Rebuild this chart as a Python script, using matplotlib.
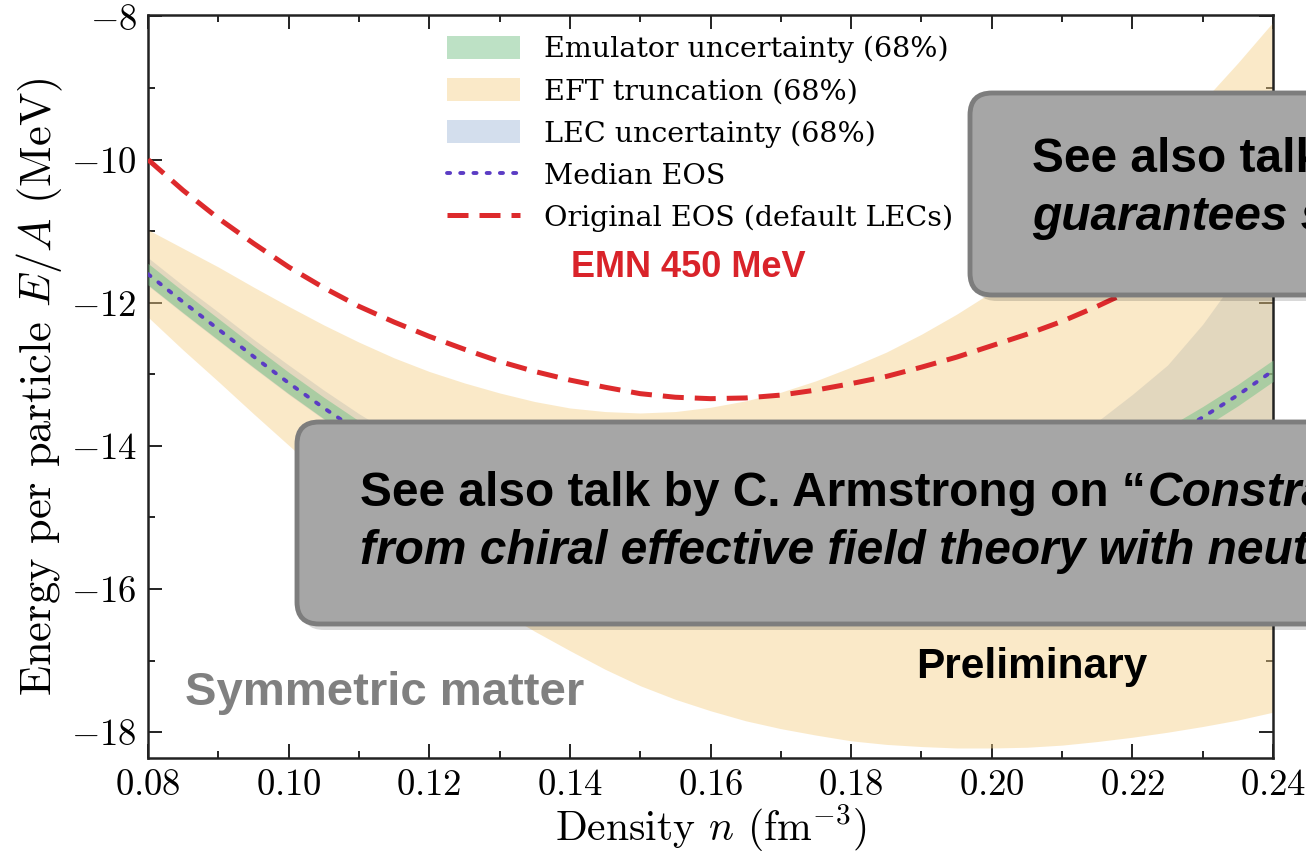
import numpy as np
import matplotlib
matplotlib.use("Agg")
import matplotlib.pyplot as plt
from matplotlib.patches import Patch, FancyBboxPatch
from matplotlib.lines import Line2D
from matplotlib.ticker import MultipleLocator, FuncFormatter
from matplotlib.transforms import IdentityTransform

plt.rcParams["mathtext.fontset"] = "cm"
plt.rcParams["font.family"] = "serif"
plt.rcParams["font.serif"] = ["cmr10", "DejaVu Serif"]

# Density grid (fm^-3)
density = [0.080, 0.085, 0.090, 0.095, 0.100, 0.105, 0.110, 0.115, 0.120, 0.125, 0.130,
           0.135, 0.140, 0.145, 0.150, 0.155, 0.160, 0.165, 0.170, 0.175, 0.180, 0.185,
           0.190, 0.195, 0.200, 0.205, 0.210, 0.215, 0.220, 0.225, 0.230, 0.235, 0.240]

# EFT truncation band (68%)
eft_upper = [-10.98, -11.24, -11.50, -11.78, -12.05, -12.31, -12.55, -12.77, -12.96, -13.12,
             -13.26, -13.38, -13.47, -13.52, -13.54, -13.52, -13.46, -13.37, -13.25, -13.09,
             -12.90, -12.69, -12.44, -12.16, -11.85, -11.49, -11.10, -10.67, -10.20, -9.71,
             -9.19, -8.65, -8.08]
eft_lower = [-12.20, -12.66, -13.10, -13.55, -13.99, -14.43, -14.85, -15.24, -15.60, -15.96,
             -16.30, -16.59, -16.86, -17.12, -17.35, -17.54, -17.70, -17.84, -17.95, -18.04,
             -18.12, -18.17, -18.20, -18.22, -18.22, -18.21, -18.18, -18.13, -18.07, -18.00,
             -17.92, -17.83, -17.72]

# LEC uncertainty band (68%)
lec_upper = [-11.37, -11.76, -12.13, -12.51, -12.87, -13.22, -13.55, -13.85, -14.14, -14.38,
             -14.59, -14.76, -14.89, -14.99, -15.07, -15.13, -15.16, -15.17, -15.16, -15.13,
             -15.08, -15.00, -14.90, -14.75, -14.55, -14.30, -14.00, -13.66, -13.28, -12.87,
             -12.30, -11.62, -10.85]
lec_lower = [-11.76, -12.15, -12.53, -12.91, -13.28, -13.63, -13.97, -14.28, -14.57, -14.83,
             -15.05, -15.24, -15.40, -15.52, -15.62, -15.69, -15.73, -15.74, -15.73, -15.69,
             -15.63, -15.55, -15.45, -15.33, -15.20, -15.06, -14.92, -14.76, -14.60, -14.43,
             -14.25, -14.06, -13.85]

# Emulator uncertainty band (68%)
emu_upper = [-11.45, -11.84, -12.22, -12.60, -12.97, -13.32, -13.65, -13.95, -14.23, -14.48,
             -14.70, -14.88, -15.03, -15.14, -15.23, -15.29, -15.32, -15.32, -15.30, -15.25,
             -15.17, -15.07, -14.95, -14.82, -14.67, -14.52, -14.35, -14.17, -13.98, -13.74,
             -13.45, -13.14, -12.80]
emu_lower = [-11.75, -12.14, -12.52, -12.90, -13.27, -13.62, -13.95, -14.25, -14.53, -14.78,
             -15.00, -15.18, -15.33, -15.44, -15.53, -15.59, -15.62, -15.62, -15.60, -15.55,
             -15.47, -15.37, -15.25, -15.12, -14.97, -14.82, -14.65, -14.47, -14.28, -14.04,
             -13.75, -13.44, -13.10]

median_eos = [-11.60, -11.99, -12.37, -12.75, -13.12, -13.47, -13.80, -14.10, -14.38, -14.63,
              -14.85, -15.03, -15.18, -15.29, -15.38, -15.44, -15.47, -15.47, -15.45, -15.40,
              -15.32, -15.22, -15.10, -14.97, -14.82, -14.67, -14.50, -14.32, -14.13, -13.89,
              -13.60, -13.29, -12.95]
original_eos = [-10.00, -10.43, -10.82, -11.17, -11.50, -11.79, -12.05, -12.27, -12.47, -12.65,
                -12.82, -12.96, -13.08, -13.18, -13.27, -13.32, -13.34, -13.33, -13.29, -13.22,
                -13.13, -13.03, -12.90, -12.76, -12.60, -12.44, -12.26, -12.05, -11.82, -11.55,
                -11.25, -10.93, -10.60]

x_ticks = [0.08, 0.10, 0.12, 0.14, 0.16, 0.18, 0.20, 0.22, 0.24]
y_ticks = [-18, -16, -14, -12, -10, -8]

green = "#7cc48c"
orange = "#f5cf86"
blue = "#a9bfdc"
purple = "#5b3cc4"
red = "#dd2a2c"
W, H = 1306, 856

fig = plt.figure(figsize=(W / 100, H / 100), dpi=100)
ax = fig.add_axes([148 / W, 98 / H, 1125 / W, 743 / H])

ax.fill_between(density, lec_lower, lec_upper, color=blue, alpha=0.5, lw=0, zorder=1)
ax.fill_between(density, eft_lower, eft_upper, color=orange, alpha=0.45, lw=0, zorder=2)
ax.fill_between(density, emu_lower, emu_upper, color=green, alpha=0.55, lw=0, zorder=3)
ax.plot(density, median_eos, color=purple, lw=2.8, ls=(0, (0.8, 2.6)),
        dash_capstyle="round", zorder=4)
ax.plot(density, original_eos, color=red, lw=3.6, ls=(0, (4.2, 2.2)), zorder=5)

ax.set_xlim(0.08, 0.24)
ax.set_ylim(-18.36, -7.98)
ax.set_xticks(x_ticks)
ax.set_yticks(y_ticks)
ax.xaxis.set_minor_locator(MultipleLocator(0.01))
ax.yaxis.set_minor_locator(MultipleLocator(1))
ax.xaxis.set_major_formatter(FuncFormatter(lambda v, p: f"${v:.2f}$"))
ax.yaxis.set_major_formatter(FuncFormatter(lambda v, p: f"${v:g}$"))
ax.tick_params(which="both", direction="in", top=True, right=True,
               width=1.4, color="#222222", labelsize=26.5, pad=8)
ax.tick_params(which="major", length=10)
ax.tick_params(which="minor", length=5)
for s in ax.spines.values():
    s.set_linewidth(1.8)
    s.set_color("#222222")

ax.set_xlabel(r"Density $n$ (fm$^{-3}$)", fontsize=30, labelpad=0)
ax.set_ylabel(r"Energy per particle $E/A$ (MeV)", fontsize=32, labelpad=4)

handles = [
    Patch(facecolor=green, alpha=0.5, edgecolor="none"),
    Patch(facecolor=orange, alpha=0.45, edgecolor="none"),
    Patch(facecolor=blue, alpha=0.5, edgecolor="none"),
    Line2D([], [], color=purple, lw=2.8, ls=(0, (0.8, 2.6)), dash_capstyle="round"),
    Line2D([], [], color=red, lw=3.6, ls=(0, (4.2, 2.2))),
]
labels = ["Emulator uncertainty (68%)", "EFT truncation (68%)", "LEC uncertainty (68%)",
          "Median EOS", "Original EOS (default LECs)"]
ax.legend(handles, labels, loc="upper left", bbox_to_anchor=(0.256, 0.987),
          borderaxespad=0, frameon=False, prop={"family": "DejaVu Serif", "size": 20.5},
          handlelength=2.55, handleheight=0.85, handletextpad=0.85, labelspacing=0.52)

ax.text(0.48, 0.6595, "EMN 450 MeV", transform=ax.transAxes, ha="center", va="center",
        color="#d9232a", fontsize=26, fontweight="bold", family="Liberation Sans")
ax.text(0.2107, 0.0875, "Symmetric matter", transform=ax.transAxes, ha="center",
        va="center", color="#808080", fontsize=34, fontweight="bold",
        family="Liberation Sans", zorder=6)
ax.text(0.7858, 0.1225, "Preliminary", transform=ax.transAxes, ha="center", va="center",
        color="black", fontsize=30.5, fontweight="bold", family="Liberation Sans", zorder=6)


# Callout boxes, given in pixels measured from the top-left corner
def callout(x0, top, bottom, width):
    y0 = H - bottom
    h = bottom - top
    shadow = FancyBboxPatch((x0 + 5, y0 - 6), width, h,
                            boxstyle="round,pad=0,rounding_size=22",
                            transform=IdentityTransform(), facecolor="black",
                            edgecolor="none", alpha=0.15, zorder=10)
    box = FancyBboxPatch((x0, y0), width, h, boxstyle="round,pad=0,rounding_size=22",
                         transform=IdentityTransform(), facecolor="#a6a6a6",
                         edgecolor="#7d7d7d", lw=3.5, zorder=11)
    fig.add_artist(shadow)
    fig.add_artist(box)


def px_text(x, y, s, style="normal", **kw):
    return fig.text(x / W, 1 - y / H, s, ha="left", va="center", fontsize=34.5,
                    fontweight="bold", style=style, family="Liberation Sans",
                    color="black", zorder=12, **kw)


callout(970, 93, 295, 500)
callout(297, 422, 624, 1200)

px_text(1032, 160, "See also talk by")
px_text(1032, 217, "guarantees s", style="italic")

first = px_text(360, 493, "See also talk by C. Armstrong on \u201c")
renderer = fig.canvas.get_renderer()
ext = first.get_window_extent(renderer=renderer)
px_text(ext.x1 + 2, 493, "Constraints", style="italic")
px_text(360, 552, "from chiral effective field theory with neutron", style="italic")

fig.savefig("out.png", dpi=100)
